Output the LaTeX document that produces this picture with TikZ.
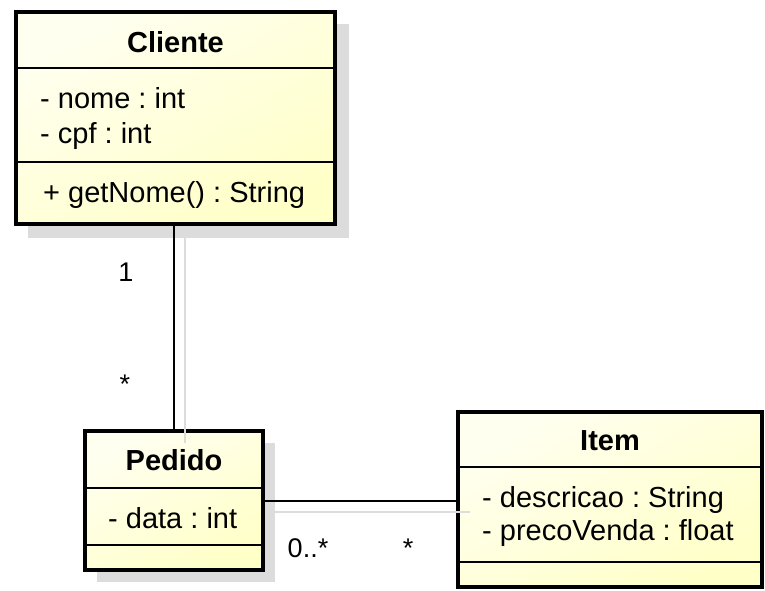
\documentclass[tikz,border=0pt]{standalone}
\usepackage{fontspec}
\setmainfont{Liberation Sans}
\frenchspacing
\definecolor{shadowgray}{HTML}{DCDCDC}
\definecolor{boxpale}{HTML}{FFFFF0}
\definecolor{boxyellow}{HTML}{FFFFC8}
\tikzset{
  umlclass/.style={draw=black, line width=4pt, inner sep=0pt,
    top color=boxpale, bottom color=boxyellow, shading angle=30},
  umlshadow/.style={fill=shadowgray, draw=none},
  sepline/.style={line width=2.5pt},
  txt/.style={anchor=base west, inner sep=0pt, font=\fontsize{29}{34}\selectfont},
  title/.style={anchor=base, inner sep=0pt, font=\fontsize{29}{34}\selectfont\bfseries},
  assoc/.style={line width=2pt},
  assocshadow/.style={line width=1.5pt, draw=shadowgray},
  mult/.style={inner sep=0pt, font=\fontsize{27}{32}\selectfont}
}
\begin{document}
\begin{tikzpicture}[x=1pt, y=-1pt]
\useasboundingbox (0,0) rectangle (765,590);

% drop shadows
\fill[umlshadow] (28,24) rectangle (349,238);
\fill[umlshadow] (97,443) rectangle (275,582);

% class boxes
\node[umlclass, minimum width=319pt, minimum height=212pt] (cliente) at (175.5,118) {};
\node[umlclass, minimum width=178pt, minimum height=139pt] (pedido) at (174,500.5) {};
\node[umlclass, minimum width=304pt, minimum height=175pt] (item) at (610,499.5) {};

% compartment separators
\draw[sepline] (cliente.west |- 0,68) -- (cliente.east |- 0,68);
\draw[sepline] (cliente.west |- 0,162) -- (cliente.east |- 0,162);
\draw[sepline] (pedido.west |- 0,488) -- (pedido.east |- 0,488);
\draw[sepline] (pedido.west |- 0,545) -- (pedido.east |- 0,545);
\draw[sepline] (item.west |- 0,467) -- (item.east |- 0,467);
\draw[sepline] (item.west |- 0,562) -- (item.east |- 0,562);

% Cliente
\node[title] (clienteT) at (175.5,52) {Cliente};
\node[txt] (clienteA1) at (40,108) {- nome : int};
\node[txt] (clienteA2) at (40,143) {- cpf : int};
\node[txt] (clienteM1) at (43,202) {+ getNome() : String};

% Pedido
\node[title] (pedidoT) at (174,470) {Pedido};
\node[txt] (pedidoA1) at (108,528) {- data : int};

% Item
\node[title] (itemT) at (610,450) {Item};
\node[txt] (itemA1) at (482,507) {- descricao : String};
\node[txt] (itemA2) at (482,540) {- precoVenda : float};

% associations and their shadows
\coordinate (sv1) at (185,238);
\coordinate (sv2) at (185,443);
\coordinate (sh1) at (275,512);
\coordinate (sh2) at (470,512);
\draw[assocshadow] (sv1) -- (sv2);
\draw[assocshadow] (sh1) -- (sh2);
\draw[assoc] (cliente.south -| pedido.north) -- (pedido.north);
\draw[assoc] (pedido.east) -- (pedido.east -| item.west);

% multiplicities
\node[mult] (m1) at (126,272) {1};
\node[mult] (m2) at (125,384) {*};
\node[mult] (m3) at (308,548) {0..*};
\node[mult] (m4) at (408,548) {*};
\end{tikzpicture}
\end{document}
